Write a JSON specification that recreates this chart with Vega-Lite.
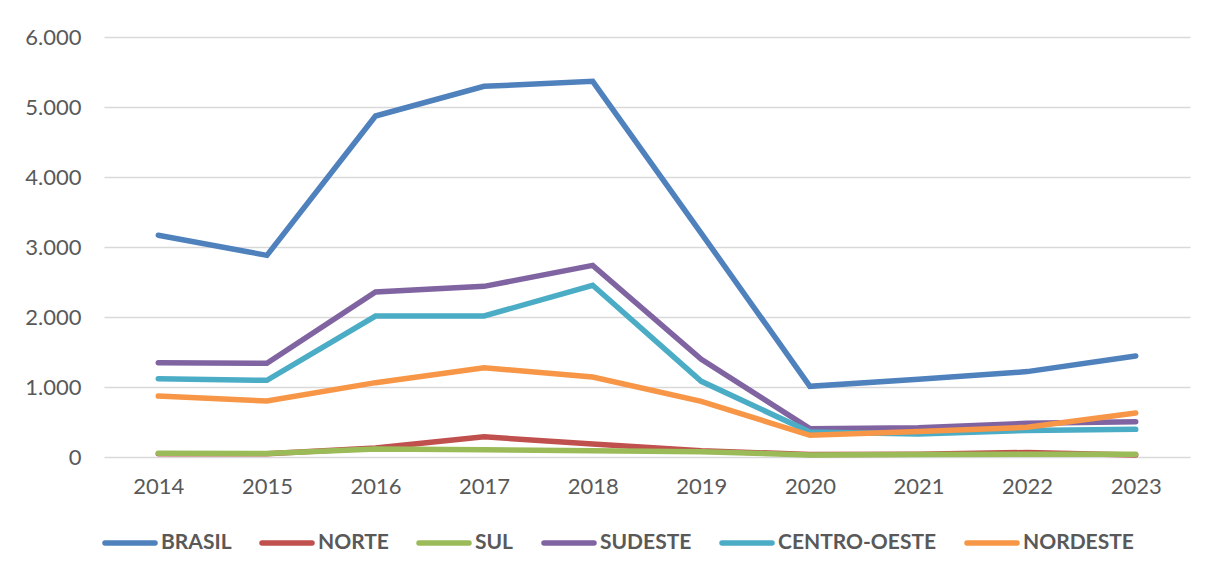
{
  "$schema": "https://vega.github.io/schema/vega-lite/v6.json",
  "width": 1086,
  "height": 420,
  "autosize": {"type": "none"},
  "padding": {"left": 104, "top": 37, "right": 36, "bottom": 116},
  "background": "white",
  "data": {
    "values": [
      {"region": "BRASIL", "year": "2014", "value": 3167},
      {"region": "BRASIL", "year": "2015", "value": 2881},
      {"region": "BRASIL", "year": "2016", "value": 4871},
      {"region": "BRASIL", "year": "2017", "value": 5295},
      {"region": "BRASIL", "year": "2018", "value": 5367},
      {"region": "BRASIL", "year": "2019", "value": 3195},
      {"region": "BRASIL", "year": "2020", "value": 1010},
      {"region": "BRASIL", "year": "2021", "value": 1110},
      {"region": "BRASIL", "year": "2022", "value": 1220},
      {"region": "BRASIL", "year": "2023", "value": 1443},
      {"region": "NORTE", "year": "2014", "value": 45},
      {"region": "NORTE", "year": "2015", "value": 45},
      {"region": "NORTE", "year": "2016", "value": 130},
      {"region": "NORTE", "year": "2017", "value": 288},
      {"region": "NORTE", "year": "2018", "value": 185},
      {"region": "NORTE", "year": "2019", "value": 90},
      {"region": "NORTE", "year": "2020", "value": 35},
      {"region": "NORTE", "year": "2021", "value": 40},
      {"region": "NORTE", "year": "2022", "value": 65},
      {"region": "NORTE", "year": "2023", "value": 30},
      {"region": "SUL", "year": "2014", "value": 55},
      {"region": "SUL", "year": "2015", "value": 50},
      {"region": "SUL", "year": "2016", "value": 115},
      {"region": "SUL", "year": "2017", "value": 105},
      {"region": "SUL", "year": "2018", "value": 90},
      {"region": "SUL", "year": "2019", "value": 75},
      {"region": "SUL", "year": "2020", "value": 30},
      {"region": "SUL", "year": "2021", "value": 35},
      {"region": "SUL", "year": "2022", "value": 40},
      {"region": "SUL", "year": "2023", "value": 40},
      {"region": "SUDESTE", "year": "2014", "value": 1348},
      {"region": "SUDESTE", "year": "2015", "value": 1340},
      {"region": "SUDESTE", "year": "2016", "value": 2357},
      {"region": "SUDESTE", "year": "2017", "value": 2438},
      {"region": "SUDESTE", "year": "2018", "value": 2738},
      {"region": "SUDESTE", "year": "2019", "value": 1395},
      {"region": "SUDESTE", "year": "2020", "value": 405},
      {"region": "SUDESTE", "year": "2021", "value": 418},
      {"region": "SUDESTE", "year": "2022", "value": 481},
      {"region": "SUDESTE", "year": "2023", "value": 505},
      {"region": "CENTRO-OESTE", "year": "2014", "value": 1119},
      {"region": "CENTRO-OESTE", "year": "2015", "value": 1095},
      {"region": "CENTRO-OESTE", "year": "2016", "value": 2014},
      {"region": "CENTRO-OESTE", "year": "2017", "value": 2014},
      {"region": "CENTRO-OESTE", "year": "2018", "value": 2453},
      {"region": "CENTRO-OESTE", "year": "2019", "value": 1081},
      {"region": "CENTRO-OESTE", "year": "2020", "value": 357},
      {"region": "CENTRO-OESTE", "year": "2021", "value": 329},
      {"region": "CENTRO-OESTE", "year": "2022", "value": 380},
      {"region": "CENTRO-OESTE", "year": "2023", "value": 395},
      {"region": "NORDESTE", "year": "2014", "value": 871},
      {"region": "NORDESTE", "year": "2015", "value": 800},
      {"region": "NORDESTE", "year": "2016", "value": 1062},
      {"region": "NORDESTE", "year": "2017", "value": 1276},
      {"region": "NORDESTE", "year": "2018", "value": 1143},
      {"region": "NORDESTE", "year": "2019", "value": 795},
      {"region": "NORDESTE", "year": "2020", "value": 310},
      {"region": "NORDESTE", "year": "2021", "value": 365},
      {"region": "NORDESTE", "year": "2022", "value": 424},
      {"region": "NORDESTE", "year": "2023", "value": 630}
    ]
  },
  "mark": {"type": "line", "strokeWidth": 5.5, "strokeCap": "round", "strokeJoin": "miter"},
  "encoding": {
    "x": {
      "field": "year",
      "type": "ordinal",
      "scale": {"type": "point", "padding": 0.5},
      "axis": {
        "title": null,
        "labelAngle": 0,
        "ticks": false,
        "domain": false,
        "labelPadding": 19,
        "labelFont": "Lato",
        "labelFontSize": 22,
        "labelColor": "#595959"
      }
    },
    "y": {
      "field": "value",
      "type": "quantitative",
      "scale": {"domain": [0, 6000], "nice": false},
      "axis": {
        "title": null,
        "values": [0, 1000, 2000, 3000, 4000, 5000, 6000],
        "labelExpr": "replace(format(datum.value, ','), ',', '.')",
        "ticks": false,
        "domain": false,
        "grid": true,
        "gridColor": "#d9d9d9",
        "gridWidth": 1.5,
        "labelPadding": 23,
        "labelFont": "Lato",
        "labelFontSize": 22,
        "labelColor": "#595959"
      }
    },
    "color": {
      "field": "region",
      "type": "nominal",
      "scale": {
        "domain": ["BRASIL", "NORTE", "SUL", "SUDESTE", "CENTRO-OESTE", "NORDESTE"],
        "range": ["#4F81BD", "#C0504D", "#9BBB59", "#8064A2", "#4BACC6", "#F79646"]
      },
      "legend": {
        "title": null,
        "orient": "none",
        "direction": "horizontal",
        "legendX": -2,
        "legendY": 478,
        "padding": 0,
        "symbolType": "stroke",
        "symbolSize": 2500,
        "symbolStrokeWidth": 5.5,
        "columnPadding": 19,
        "labelOffset": 3,
        "labelLimit": 300,
        "labelFont": "Lato",
        "labelFontSize": 21,
        "labelFontWeight": "bold",
        "labelColor": "#595959",
        "encode": {"symbols": {"update": {"strokeCap": {"value": "round"}}}}
      }
    }
  },
  "config": {"view": {"stroke": null}}
}
